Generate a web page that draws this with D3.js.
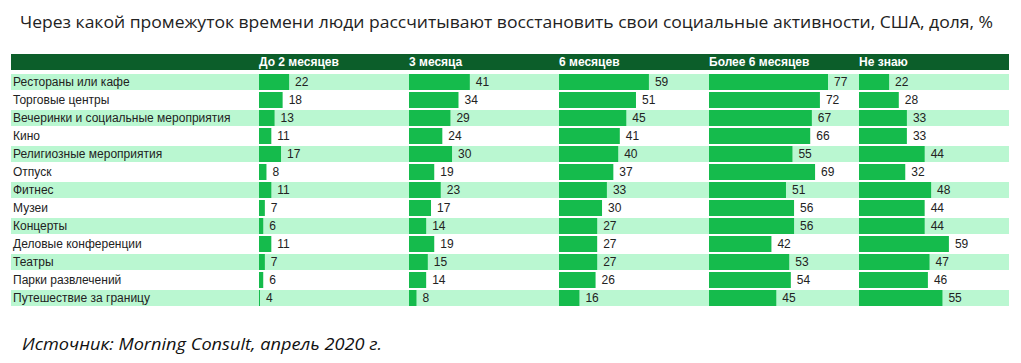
<!DOCTYPE html>
<html>
<head>
<meta charset="utf-8">
<script src="https://cdn.jsdelivr.net/npm/d3@7"></script>
<style>
  body { margin: 0; background: #fff; }
  svg { display: block; }
</style>
</head>
<body>
<div id="chart"></div>
<script>
// data
const activities = [
    'Рестораны или кафе', 'Торговые центры', 'Вечеринки и социальные мероприятия',
    'Кино', 'Религиозные мероприятия', 'Отпуск', 'Фитнес', 'Музеи', 'Концерты',
    'Деловые конференции', 'Театры', 'Парки развлечений', 'Путешествие за границу'
];
const periods = ['До 2 месяцев', '3 месяца', '6 месяцев', 'Более 6 месяцев', 'Не знаю'];
const upTo2Months = [22, 18, 13, 11, 17, 8, 11, 7, 6, 11, 7, 6, 4];
const threeMonths = [41, 34, 29, 24, 30, 19, 23, 17, 14, 19, 15, 14, 8];
const sixMonths = [59, 51, 45, 41, 40, 37, 33, 30, 27, 27, 27, 26, 16];
const moreThan6 = [77, 72, 67, 66, 55, 69, 51, 56, 56, 42, 53, 54, 45];
const dontKnow = [22, 28, 33, 33, 44, 32, 48, 44, 44, 59, 47, 46, 55];
const series = [upTo2Months, threeMonths, sixMonths, moreThan6, dontKnow];

const titleText = 'Через какой промежуток времени люди рассчитывают восстановить свои социальные активности, США, доля, %';
const sourceText = 'Источник: Morning Consult, апрель 2020 г.';

// layout
const width = 1021;
const height = 363;
const tableLeft = 11, tableRight = 1009;
const headerTop = 54, headerH = 16;
const firstRowTop = 74, rowStep = 18, rowGap = 2;
const colStart = 259, colStep = 150;

const svg = d3.select('#chart').append('svg')
    .attr('width', width)
    .attr('height', height);

// title
svg.append('text')
    .attr('x', 20)
    .attr('y', 28)
    .attr('font-family', '"Open Sans", "Noto Sans", sans-serif')
    .attr('font-size', 17)
    .attr('fill', '#222')
    .attr('textLength', 973)
    .attr('lengthAdjust', 'spacingAndGlyphs')
    .text(titleText);

// header
svg.append('rect')
    .attr('x', tableLeft).attr('y', headerTop)
    .attr('width', tableRight - tableLeft).attr('height', headerH)
    .attr('fill', '#0c5e2a');

const colX = d3.scaleBand()
    .domain(periods)
    .range([colStart, colStart + colStep * periods.length]);

svg.selectAll('.head')
    .data(periods)
    .enter().append('text')
    .attr('class', 'head')
    .attr('x', d => colX(d))
    .attr('y', headerTop + headerH / 2)
    .attr('dy', '0.35em')
    .attr('font-family', '"Liberation Sans", Arial, sans-serif')
    .attr('font-size', 12)
    .attr('font-weight', 'bold')
    .attr('fill', '#fff')
    .text(d => d);

// rows
const rowY = d3.scaleBand()
    .domain(activities)
    .range([firstRowTop, firstRowTop + rowStep * activities.length - rowGap])
    .paddingInner(rowGap / rowStep)
    .paddingOuter(0);

svg.selectAll('.band')
    .data(activities.filter((d, i) => i % 2 === 0))
    .enter().append('rect')
    .attr('class', 'band')
    .attr('x', tableLeft)
    .attr('y', d => rowY(d))
    .attr('width', tableRight - tableLeft)
    .attr('height', rowY.bandwidth())
    .attr('fill', '#baf7d1');

svg.selectAll('.label')
    .data(activities)
    .enter().append('text')
    .attr('class', 'label')
    .attr('x', 13)
    .attr('y', d => rowY(d) + rowY.bandwidth() / 2)
    .attr('dy', '0.35em')
    .attr('font-family', '"Liberation Sans", Arial, sans-serif')
    .attr('font-size', 12)
    .attr('fill', '#222')
    .text(d => d);

// bar length scale (shared by all columns)
const barW = d3.scaleLinear().domain([4, 77]).range([1, 119]);

series.forEach((values, ci) => {
    const x0 = colX(periods[ci]);
    const g = svg.append('g');
    g.selectAll('rect')
        .data(values)
        .enter().append('rect')
        .attr('x', x0)
        .attr('y', (d, i) => rowY(activities[i]))
        .attr('width', d => Math.max(1, barW(d)))
        .attr('height', rowY.bandwidth())
        .attr('fill', '#15bb4c');
    g.selectAll('text')
        .data(values)
        .enter().append('text')
        .attr('x', d => x0 + Math.max(1, barW(d)) + 6)
        .attr('y', (d, i) => rowY(activities[i]) + rowY.bandwidth() / 2)
        .attr('dy', '0.35em')
        .attr('font-family', '"Liberation Sans", Arial, sans-serif')
        .attr('font-size', 12)
        .attr('fill', '#222')
        .text(d => d);
});

// source
svg.append('text')
    .attr('x', 22)
    .attr('y', 350)
    .attr('font-family', '"Open Sans", "Noto Sans", sans-serif')
    .attr('font-style', 'italic')
    .attr('font-size', 17)
    .attr('fill', '#111')
    .attr('textLength', 360)
    .attr('lengthAdjust', 'spacingAndGlyphs')
    .text(sourceText);
</script>
</body>
</html>
